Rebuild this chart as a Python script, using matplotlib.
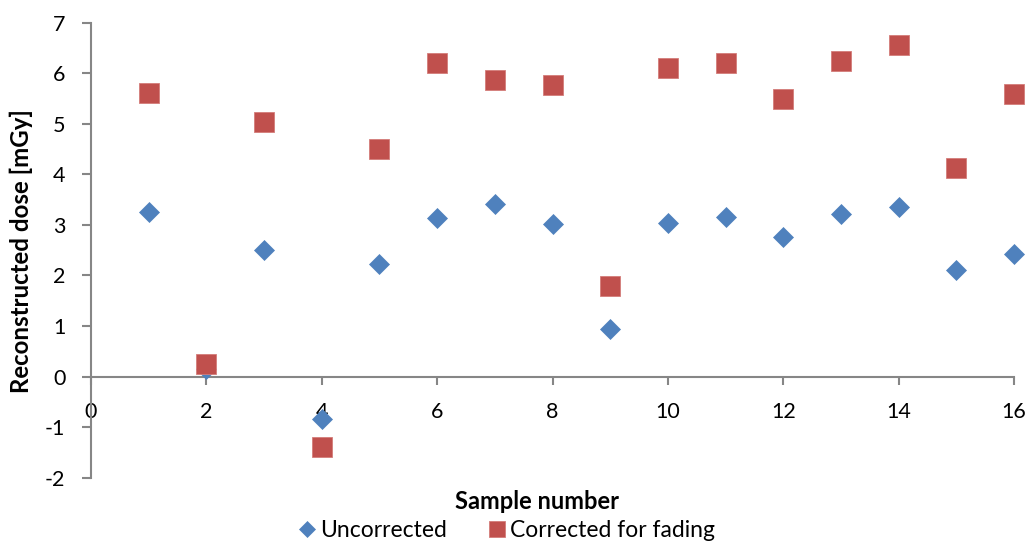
import matplotlib
matplotlib.use("Agg")
import matplotlib.pyplot as plt

plt.rcParams['font.family'] = ['Lato', 'DejaVu Sans']

# Sample numbers and reconstructed doses (mGy)
samples = list(range(1, 17))
uncorrected = [3.25, 0.15, 2.50, -0.84, 2.22, 3.14, 3.41, 3.02,
               0.94, 3.04, 3.15, 2.76, 3.22, 3.36, 2.11, 2.42]
corrected = [5.60, 0.25, 5.04, -1.40, 4.51, 6.21, 5.86, 5.77,
             1.80, 6.11, 6.21, 5.49, 6.25, 6.55, 4.13, 5.59]

x_ticks = [0, 2, 4, 6, 8, 10, 12, 14, 16]
y_ticks = [-2, -1, 0, 1, 2, 3, 4, 5, 6, 7]

blue = '#4F81BD'
red = '#C0504D'
axis_grey = '#868686'

fig = plt.figure(figsize=(10.32, 5.42), dpi=100)
ax = fig.add_axes([0.0882, 0.1186, 0.8944, 0.8396])

ax.plot(samples, uncorrected, linestyle='none', marker='D', markersize=10.2,
        color=blue, markeredgecolor=blue, markeredgewidth=0.5,
        label='Uncorrected', zorder=3, clip_on=False)
ax.plot(samples, corrected, linestyle='none', marker='s', markersize=14.4,
        color=red, markeredgecolor='#D47C79', markeredgewidth=0.6,
        label='Corrected for fading', zorder=3, clip_on=False)

ax.set_xlim(0, 16)
ax.set_ylim(-2, 7)
ax.set_xticks(x_ticks)
ax.set_yticks(y_ticks)
ax.set_xticklabels([str(t) for t in x_ticks])
ax.set_yticklabels([str(t) for t in y_ticks])

for side in ('top', 'right'):
    ax.spines[side].set_visible(False)
ax.spines['bottom'].set_position(('data', 0))
for side in ('left', 'bottom'):
    ax.spines[side].set_color(axis_grey)
    ax.spines[side].set_linewidth(1.5)

ax.tick_params(axis='y', direction='out', length=6.5, width=1.5,
               color=axis_grey, labelsize=15.5, pad=12, labelcolor='black')
ax.tick_params(axis='x', direction='out', length=6, width=1.5,
               color=axis_grey, labelsize=15.5, pad=12, labelcolor='black')

ax.set_xlabel('Sample number', fontsize=17, fontweight='bold')
ax.xaxis.set_label_coords(0.483, -0.026)
ax.set_ylabel('Reconstructed dose [mGy]', fontsize=17.3, fontweight='bold')
ax.yaxis.set_label_coords(-0.063, 0.497)

fig.legend(loc='center', bbox_to_anchor=(0.489, 0.022), ncol=2,
           frameon=False, fontsize=16.5, handletextpad=0.05,
           columnspacing=1.6, handlelength=1.1, borderaxespad=0,
           markerscale=0.82)

fig.savefig('out.png', dpi=100)
